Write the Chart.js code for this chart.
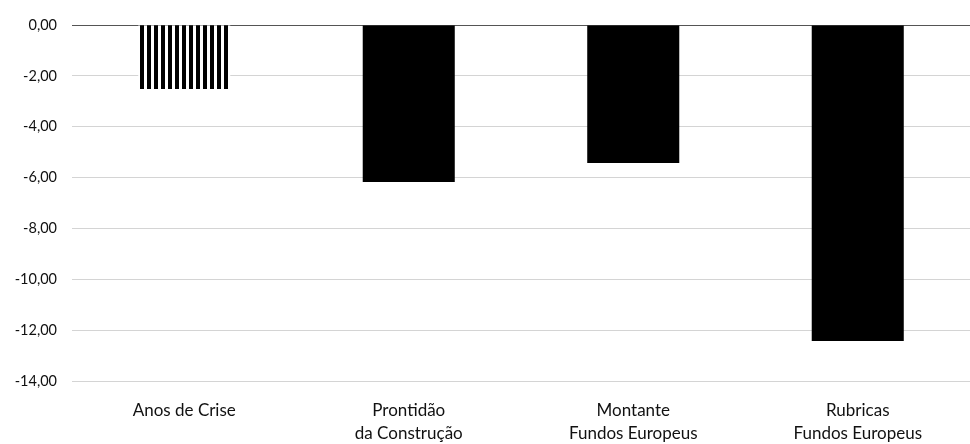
<!DOCTYPE html>
<html>
<head>
<meta charset="utf-8">
<script src="https://cdn.jsdelivr.net/npm/chart.js@4/dist/chart.umd.min.js"></script>
<style>
html,body{margin:0;padding:0;background:#fff;}
#wrap{width:970px;height:444px;position:relative;}
</style>
</head>
<body>
<div id="wrap"><canvas id="c" width="970" height="444"></canvas></div>
<script>
const categories = [
  ["Anos de Crise"],
  ["Prontidão", "da Construção"],
  ["Montante", "Fundos Europeus"],
  ["Rubricas", "Fundos Europeus"]
];
const values = [-2.52, -6.17, -5.43, -12.43];
const yTicks = [0, -2, -4, -6, -8, -10, -12, -14];

function stripePattern() {
  const p = document.createElement('canvas');
  p.width = 7; p.height = 10;
  const g = p.getContext('2d');
  g.fillStyle = '#fff'; g.fillRect(0, 0, 7, 10);
  g.fillStyle = '#000'; g.fillRect(0, 0, 4, 10);
  return document.getElementById('c').getContext('2d').createPattern(p, 'repeat');
}
const stripes = stripePattern();

new Chart(document.getElementById('c'), {
  type: 'bar',
  data: {
    labels: categories,
    datasets: [{
      data: values,
      backgroundColor: values.map((v, i) => i === 0 ? stripes : '#000'),
      borderWidth: 0,
      barPercentage: 0.41,
      categoryPercentage: 1
    }]
  },
  options: {
    responsive: false,
    animation: false,
    layout: { padding: { top: 25, right: 0, bottom: 0, left: 0 } },
    plugins: { legend: { display: false }, tooltip: { enabled: false } },
    scales: {
      x: {
        afterFit: s => { s.height = 63; },
        grid: { display: false, drawTicks: false },
        border: { display: false },
        ticks: { color: '#111', font: { family: 'Lato', size: 17, lineHeight: 1.35 }, padding: 18, maxRotation: 0 }
      },
      y: {
        min: -14, max: 0,
        afterFit: s => { s.width = 72; },
        afterBuildTicks: s => { s.ticks = yTicks.map(v => ({ value: v })); },
        grid: {
          drawTicks: false,
          color: c => c.tick && c.tick.value === 0 ? '#555' : '#d4d4d4',
          lineWidth: 1
        },
        border: { display: false },
        ticks: {
          padding: 15,
          color: '#111',
          font: { family: 'Lato', size: 14.5 },
          callback: v => v.toFixed(2).replace('.', ',')
        }
      }
    }
  }
});
</script>
</body>
</html>
